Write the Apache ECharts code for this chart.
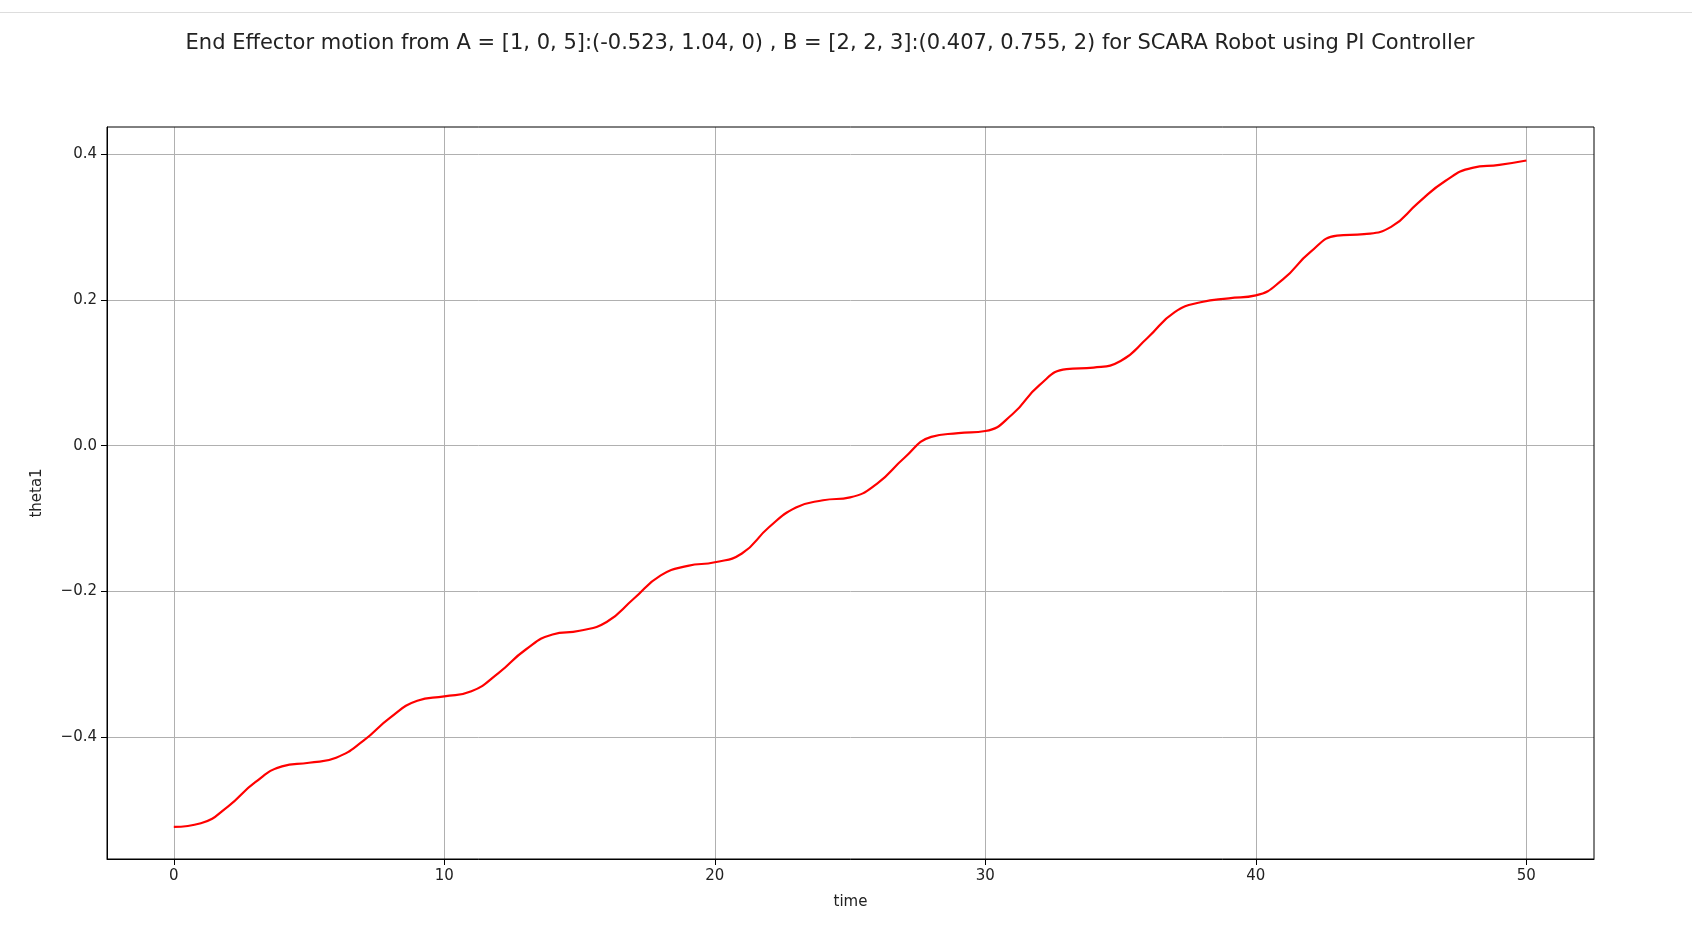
<!DOCTYPE html><html><head><meta charset="utf-8"><script src="https://cdn.jsdelivr.net/npm/echarts@6/dist/echarts.min.js"></script>
<style>html,body{margin:0;background:#fff}#c{width:1692px;height:942px}#bar{position:absolute;left:0;top:12px;width:1692px;height:1px;background:#ddd}</style></head><body><div id="bar"></div><div id="c"></div><script>
const times=[0,1,2,3,4,5,6,7,8,9,10,11,12,13,14,15,16,17,18,19,20,21,22,23,24,25,26,27,28,29,30,31,32,33,34,35,36,37,38,39,40,41,42,43,44,45,46,47,48,49,50];
const theta1=[-0.523,-0.518,-0.495,-0.462,-0.440,-0.435,-0.428,-0.405,-0.373,-0.350,-0.344,-0.337,-0.312,-0.280,-0.259,-0.254,-0.242,-0.210,-0.178,-0.165,-0.160,-0.148,-0.112,-0.085,-0.075,-0.071,-0.052,-0.017,0.012,0.017,0.020,0.043,0.083,0.105,0.107,0.116,0.148,0.183,0.197,0.202,0.206,0.228,0.265,0.288,0.290,0.300,0.333,0.363,0.381,0.385,0.391];
const xTicks=[0,10,20,30,40,50];
const yTicks=[-0.4,-0.2,0.0,0.2,0.4];
const ch=echarts.init(document.getElementById('c'));
const ax={color:'#222',fontSize:15,fontFamily:'DejaVu Sans'};
ch.setOption({animation:false,
title:{text:'End Effector motion from A = [1, 0, 5]:(-0.523, 1.04, 0) , B = [2, 2, 3]:(0.407, 0.755, 2) for SCARA Robot using PI Controller',left:825,top:28,textAlign:'center',textStyle:{fontSize:21,fontWeight:'normal',color:'#222',fontFamily:'DejaVu Sans'}},
grid:{left:107,right:98,top:127,height:732},
xAxis:{type:'value',min:-2.47,max:52.5,name:'time',nameLocation:'middle',nameGap:36,nameTextStyle:ax,
axisLine:{onZero:false,lineStyle:{color:'#000'}},axisTick:{customValues:xTicks,length:6,lineStyle:{color:'#000'}},
axisLabel:Object.assign({customValues:xTicks,margin:10},ax),splitLine:{show:true,lineStyle:{color:'#b0b0b0'}}},
yAxis:{type:'value',min:-0.567,max:0.437,name:'theta1',nameLocation:'middle',nameGap:62,nameTextStyle:ax,
axisLine:{show:true,onZero:false,lineStyle:{color:'#000'}},axisTick:{show:true,customValues:yTicks,length:6,lineStyle:{color:'#000'}},
axisLabel:Object.assign({customValues:yTicks,margin:10,formatter:v=>(v<0?'\u2212':'')+Math.abs(v).toFixed(1)},ax),splitLine:{show:true,lineStyle:{color:'#b0b0b0'}}},
series:[{type:'line',data:times.map((t,i)=>[t,theta1[i]]),smooth:true,showSymbol:false,lineStyle:{color:'#ff0000',width:2.2}}]
});
ch.setOption({graphic:[{type:'rect',shape:{x:107,y:127,width:1487,height:732},style:{fill:'none',stroke:'#000',lineWidth:1},z:100}]});
</script></body></html>
